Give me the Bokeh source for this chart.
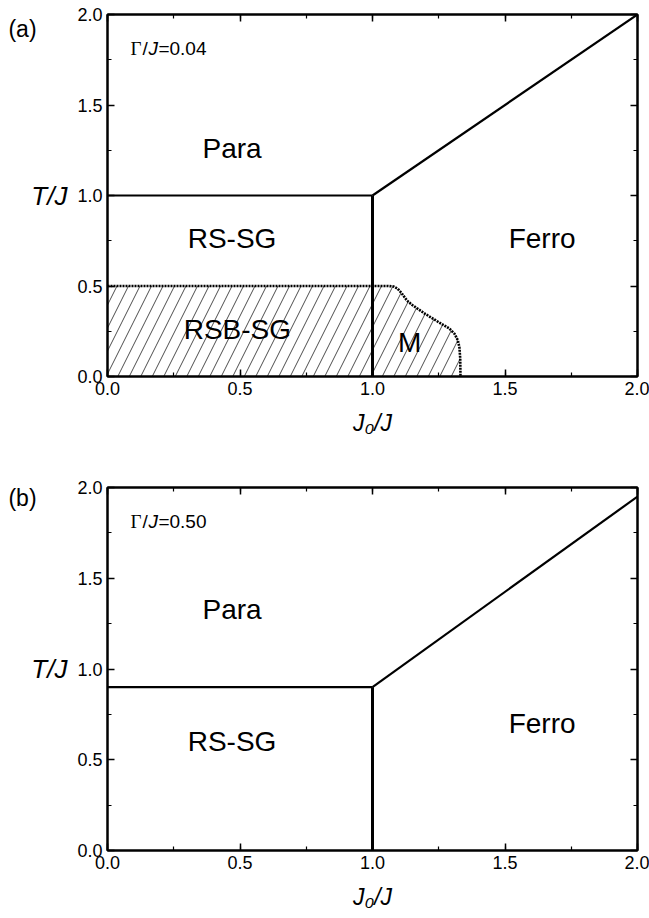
from bokeh.plotting import figure
from bokeh.layouts import column
from bokeh.models import (Label, LinearAxis, Range1d, CustomJSTickFormatter,
                          SingleIntervalTicker, PrintfTickFormatter)
from bokeh.embed import file_html
from bokeh.resources import INLINE

# ---------------- data ----------------
panel_tags = ["(a)", "(b)"]
gamma_values = ["0.04", "0.50"]

# panel (a)  Gamma/J = 0.04
a_para_sg_x = [0.0, 1.0]
a_para_sg_T = [1.0, 1.0]
a_sg_ferro_x = [1.0, 1.0]
a_sg_ferro_T = [0.0, 1.0]
a_para_ferro_x = [1.0, 2.0]
a_para_ferro_T = [1.0, 2.0]
a_rsb_x = [0.0, 1.0, 1.06, 1.08, 1.095, 1.11, 1.13, 1.15, 1.20, 1.25, 1.29, 1.31, 1.322, 1.328, 1.331, 1.332]
a_rsb_T = [0.5, 0.5, 0.5, 0.497, 0.485, 0.46, 0.42, 0.395, 0.345, 0.30, 0.265, 0.235, 0.20, 0.16, 0.10, 0.0]

# panel (b)  Gamma/J = 0.50
b_para_sg_x = [0.0, 1.0]
b_para_sg_T = [0.9, 0.9]
b_sg_ferro_x = [1.0, 1.0]
b_sg_ferro_T = [0.0, 0.9]
b_para_ferro_x = [1.0, 2.0]
b_para_ferro_T = [0.9, 1.95]

# region labels (text, J0/J, T/J)
a_regions = [("Para", 0.47, 1.26), ("RS-SG", 0.47, 0.76), ("Ferro", 1.64, 0.76),
             ("RSB-SG", 0.49, 0.26), ("M", 1.14, 0.19)]
b_regions = [("Para", 0.47, 1.33), ("RS-SG", 0.47, 0.60), ("Ferro", 1.64, 0.70)]

FONT = "Liberation Sans"


def style_axis(ax, labels=True):
    ax.ticker = SingleIntervalTicker(interval=0.5, num_minor_ticks=2)
    ax.axis_line_width = 2
    ax.axis_line_color = "black"
    ax.major_tick_in = 7
    ax.major_tick_out = 0
    ax.minor_tick_in = 4
    ax.minor_tick_out = 0
    ax.major_tick_line_width = 1.5
    ax.minor_tick_line_width = 1.2
    ax.major_tick_line_color = "black"
    ax.minor_tick_line_color = "black"
    ax.major_label_text_font = FONT
    ax.major_label_text_font_size = "18px"
    ax.major_label_text_color = "black"
    ax.major_label_standoff = 5
    ax.axis_label_text_color = "black"
    ax.axis_label_text_font = FONT
    ax.axis_label_text_font_style = "italic"
    if labels:
        ax.formatter = PrintfTickFormatter(format="%.1f")
    else:
        ax.formatter = CustomJSTickFormatter(code="return ''")
        ax.major_label_standoff = 0


def tag_label(tag, cx, cy):
    kw = dict(text=tag, text_align="center", text_baseline="middle",
              text_font=FONT, text_font_size="23px", text_color="black")
    try:
        return Label(x=cx, y=cy, x_units="canvas", y_units="canvas", **kw)
    except Exception:
        return Label(x=cx - 105, y=0, x_units="screen", y_units="screen", **kw)


def make_panel(height, border_bottom, tag, tag_y, gamma, lines, regions, rsb=None):
    p = figure(width=649, height=height, x_range=Range1d(0, 2), y_range=Range1d(0, 2),
               output_backend="svg", toolbar_location=None,
               min_border_left=105, min_border_right=12, min_border_top=14,
               min_border_bottom=border_bottom)
    p.grid.visible = False
    p.outline_line_color = "black"
    p.outline_line_width = 2
    for ax in p.below + p.left:
        style_axis(ax)
    right = LinearAxis()
    style_axis(right, labels=False)
    p.add_layout(right, "right")
    top = LinearAxis()
    style_axis(top, labels=False)
    p.add_layout(top, "above")

    # axis titles
    xa = p.below[0]
    xa.axis_label = "J\u2080/J"
    xa.axis_label_text_font_size = "23px"
    xa.axis_label_standoff = 12
    ya = p.left[0]
    ya.axis_label = "T/J"
    ya.axis_label_text_font_size = "26px"
    ya.axis_label_standoff = 7
    if "axis_label_orientation" in ya.properties():
        ya.axis_label_orientation = "horizontal"

    if rsb is not None:
        xs, ts = rsb
        px = [xs[0]] + list(xs) + [xs[0]]
        pt = [0.0] + list(ts) + [0.0]
        p.patch(px, pt, fill_alpha=0, line_color=None, hatch_pattern="/",
                hatch_color="black", hatch_weight=0.7, hatch_scale=23, hatch_alpha=1.0)
        p.line(xs, ts, line_color="black", line_width=2.6, line_dash="2 1")

    for (xs, ts, w) in lines:
        p.line(xs, ts, line_color="black", line_width=w)

    for (txt, x, t) in regions:
        p.add_layout(Label(x=x, y=t, text=txt, text_align="center", text_baseline="middle",
                           text_font=FONT, text_font_size="28px", text_color="black"))

    # Gamma/J label
    gx, gy = 0.0865, 1.81
    p.add_layout(Label(x=gx, y=gy, text="\u0393", text_align="left", text_baseline="middle",
                       text_font="Liberation Serif", text_font_size="19px", text_color="black"))
    p.add_layout(Label(x=gx, y=gy, x_offset=12, text="/", text_align="left", text_baseline="middle",
                       text_font=FONT, text_font_size="19px", text_color="black"))
    p.add_layout(Label(x=gx, y=gy, x_offset=18, text="J", text_align="left", text_baseline="middle",
                       text_font=FONT, text_font_style="italic", text_font_size="19px",
                       text_color="black"))
    p.add_layout(Label(x=gx, y=gy, x_offset=28, text="=" + gamma, text_align="left",
                       text_baseline="middle", text_font=FONT, text_font_size="19px",
                       text_color="black"))

    # panel tag, placed in the left side panel (canvas coordinates)
    p.add_layout(tag_label(tag, 22, tag_y), "left")
    return p


pa = make_panel(473, 97, panel_tags[0], 28, gamma_values[0],
                [(a_para_sg_x, a_para_sg_T, 2.2), (a_sg_ferro_x, a_sg_ferro_T, 3),
                 (a_para_ferro_x, a_para_ferro_T, 2.2)],
                a_regions, rsb=(a_rsb_x, a_rsb_T))
pb = make_panel(445, 68, panel_tags[1], 24, gamma_values[1],
                [(b_para_sg_x, b_para_sg_T, 2.2), (b_sg_ferro_x, b_sg_ferro_T, 3),
                 (b_para_ferro_x, b_para_ferro_T, 2.2)],
                b_regions)

layout = column(pa, pb, spacing=0)
open("out.html", "w").write(file_html(layout, INLINE))
